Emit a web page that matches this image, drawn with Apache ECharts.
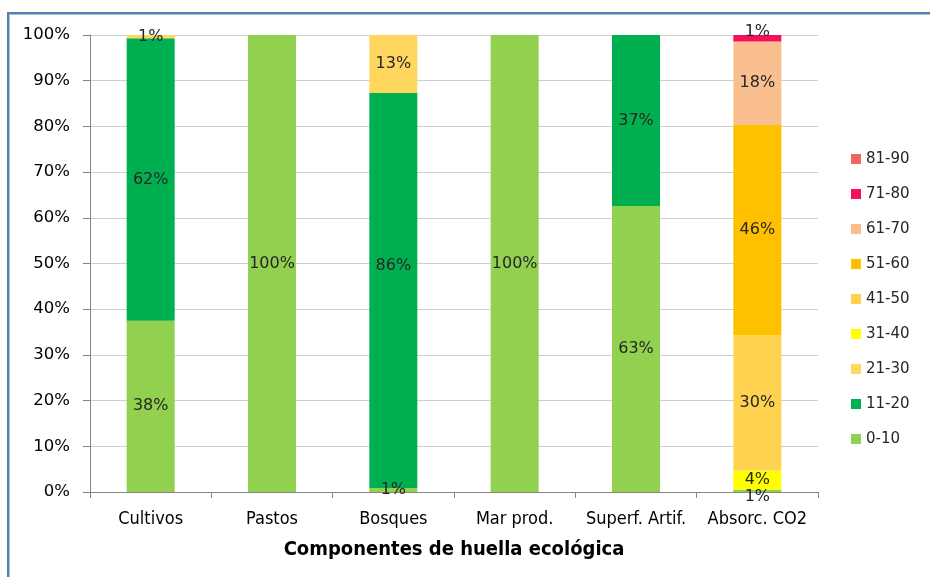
<!DOCTYPE html>
<html>
<head>
<meta charset="utf-8">
<script src="https://cdn.jsdelivr.net/npm/echarts@6/dist/echarts.min.js"></script>
<style>
  html, body { margin: 0; padding: 0; background: #fff; }
  #chart { width: 930px; height: 577px; }
</style>
</head>
<body>
<div id="chart"></div>
<script>
// Components of the ecological footprint, share of each class (%)
const categories = ['Cultivos', 'Pastos', 'Bosques', 'Mar prod.', 'Superf. Artif.', 'Absorc. CO2'];
const classNames = ['0-10', '11-20', '21-30', '31-40', '41-50', '51-60', '61-70', '71-80', '81-90'];

const v0_10  = [37.5, 100, 0.9, 100, 62.6, 0.5];
const v11_20 = [61.8, null, 86.4, null, 37.4, null];
const v21_30 = [0.7, null, 12.7, null, null, null];
const v31_40 = [null, null, null, null, null, 4.2];
const v41_50 = [null, null, null, null, null, 29.6];
const v51_60 = [null, null, null, null, null, 46.0];
const v61_70 = [null, null, null, null, null, 18.3];
const v71_80 = [null, null, null, null, null, 1.4];
const v81_90 = [null, null, null, null, null, null];

const classValues = [v0_10, v11_20, v21_30, v31_40, v41_50, v51_60, v61_70, v71_80, v81_90];
const classColors = ['#92D050', '#00B050', '#FFD75E', '#FFFF00', '#FFD24F', '#FFC000', '#F9BF8F', '#F70F5C', '#F2665C'];

const yTicks = [0, 10, 20, 30, 40, 50, 60, 70, 80, 90, 100];

// Nudges for labels that sit on thin slices or were moved by hand
const labelNudge = {
  '0-10|Absorc. CO2': [0, 6],
  '71-80|Absorc. CO2': [0, -6],
  '11-20|Bosques': [0, -25]
};

const labelFont = 'DejaVu Sans, Verdana, sans-serif';
const narrowFont = 'Liberation Sans Narrow, DejaVu Sans Condensed, Liberation Sans, sans-serif';

const series = classNames.map((name, i) => ({
  name: name,
  type: 'bar',
  stack: 'total',
  barWidth: 48,
  data: classValues[i].map((v, j) => {
    const nudge = labelNudge[name + '|' + categories[j]];
    return nudge ? { value: v, label: { offset: nudge } } : v;
  }),
  itemStyle: { color: classColors[i] },
  label: {
    show: true,
    position: 'inside',
    color: '#262626',
    fontFamily: labelFont,
    fontSize: 16,
    formatter: p => (p.value == null ? '' : Math.round(p.value) + '%')
  }
}));

const chart = echarts.init(document.getElementById('chart'), null, { renderer: 'canvas' });
chart.setOption({
  animation: false,
  backgroundColor: '#ffffff',
  grid: { left: 90, right: 112, top: 35, bottom: 85, containLabel: false },
  legend: {
    orient: 'vertical',
    left: 851,
    top: 151,
    padding: 0,
    data: classNames.slice().reverse(),
    icon: 'rect',
    itemWidth: 10,
    itemHeight: 10,
    itemGap: 19,
    textStyle: { fontFamily: labelFont, fontSize: 15, color: '#262626', lineHeight: 16 }
  },
  xAxis: {
    type: 'category',
    data: categories,
    name: 'Componentes de huella ecológica',
    nameLocation: 'middle',
    nameGap: 48,
    nameTextStyle: { fontFamily: narrowFont, fontWeight: 'bold', fontSize: 20, color: '#000' },
    axisLine: { lineStyle: { color: '#868686', width: 1 } },
    axisTick: { show: true, length: 6, lineStyle: { color: '#868686' } },
    axisLabel: {
      interval: 0,
      margin: 18,
      fontFamily: narrowFont,
      fontSize: 18,
      color: '#000'
    }
  },
  yAxis: {
    type: 'value',
    min: yTicks[0],
    max: yTicks[yTicks.length - 1],
    interval: 10,
    axisLine: { show: true, lineStyle: { color: '#868686', width: 1 } },
    axisTick: { show: true, length: 7, lineStyle: { color: '#868686' } },
    splitLine: { lineStyle: { color: '#CFCFCF', width: 1 } },
    axisLabel: {
      margin: 20,
      fontFamily: labelFont,
      fontSize: 16.5,
      color: '#000',
      formatter: v => v + '%'
    }
  },
  graphic: [
    { type: 'rect', shape: { x: 7, y: 12, width: 930, height: 2 }, style: { fill: '#4F81BD' }, silent: true },
    { type: 'rect', shape: { x: 7, y: 12, width: 2, height: 577 }, style: { fill: '#4F81BD' }, silent: true },
    { type: 'rect', shape: { x: 9, y: 14, width: 930, height: 1 }, style: { fill: '#BDBDBD' }, silent: true },
    { type: 'rect', shape: { x: 9, y: 14, width: 1, height: 577 }, style: { fill: '#BDBDBD' }, silent: true }
  ],
  series: series
});
</script>
</body>
</html>
